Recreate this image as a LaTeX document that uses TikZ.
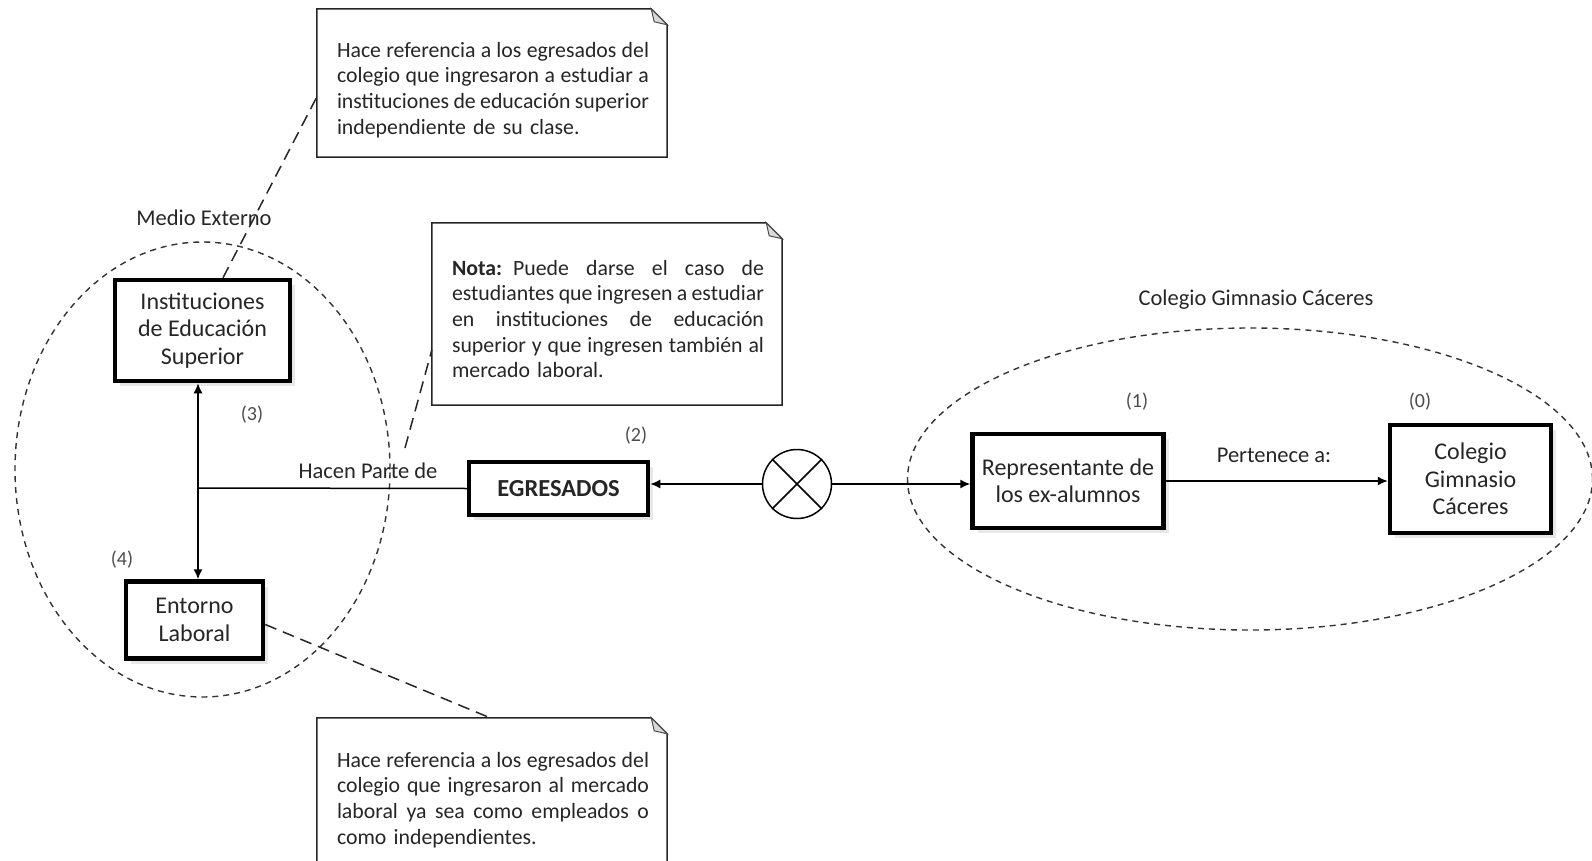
\documentclass[tikz,border=0pt]{standalone}
\usepackage{fontspec}
\setmainfont{Carlito}
\newcommand\jline[1]{\leavevmode\hbox to 312pt{\spaceskip=0.13em plus 3em minus 0.05em\relax #1}}
\usetikzlibrary{arrows.meta,calc,shadows,shapes.geometric}
\begin{document}
\begin{tikzpicture}[x=1pt,y=-1pt,
  txt/.style={font=\fontsize{22.5}{27.5}\selectfont, text=black!85, inner sep=0pt},
  num/.style={font=\fontsize{20}{22}\selectfont, text=black!70, inner sep=0pt},
  entity/.style={draw=black, line width=4.5pt, fill=white, align=center, inner sep=0pt,
    font=\fontsize{24}{27.5}\selectfont, text=black!85,
    drop shadow={shadow xshift=5pt, shadow yshift=-5pt, fill=black!18}},
  link/.style={line width=1.5pt, draw=black},
  tip/.style={-{Latex[length=10pt,width=9pt]}},
  region/.style={ellipse, draw=black!80, line width=1.4pt, dash pattern=on 6pt off 5pt, inner sep=0pt},
  notebg/.style={draw=none, inner sep=0pt},
  noteline/.style={line width=1.5pt, draw=black!85, fill=white},
  notetext/.style={inner sep=0pt, text=black!85, align=left, text width=312pt,
    font=\fontsize{21.8}{25.7}\selectfont},
  callout/.style={line width=1.5pt, draw=black!85, dash pattern=on 12pt off 7pt},
]
\useasboundingbox (0,0) rectangle (1592,861);
\clip (0,0) rectangle (1592,861);

% regions
\node[region, minimum width=375pt, minimum height=455pt] (medioreg) at (202.5,469.5) {};
\node[region, minimum width=685pt, minimum height=302pt] (colreg) at (1250,479) {};

% note frames
\node[notebg, minimum width=350pt, minimum height=148pt] (n1) at (492,83) {};
\node[notebg, minimum width=350pt, minimum height=182pt] (n2) at (607,314) {};
\node[notebg, minimum width=350pt, minimum height=184pt] (n3) at (492,810) {};
\foreach \n in {n1,n2,n3}{
  \draw[noteline] (\n.north west) -- ($(\n.north east)+(-16,0)$) -- ($(\n.north east)+(0,16)$)
    -- (\n.south east) -- (\n.south west) -- cycle;
  \draw[line width=1pt, draw=black!70, fill=black!15] ($(\n.north east)+(-16,0)$)
    -- ($(\n.north east)+(-13,13)$) -- ($(\n.north east)+(0,16)$) -- cycle;
}
\node[notetext, anchor=north west] (t1) at ($(n1.north west)+(20,33)$)
  {\jline{Hace referencia a los egresados del}\\ \jline{colegio que ingresaron a estudiar a}\\ \jline{instituciones de educación superior}\\ independiente de su clase.};
\node[notetext, anchor=north west] (t2) at ($(n2.north west)+(20,37)$)
  {\jline{\textbf{Nota:} Puede darse el caso de}\\ \jline{estudiantes que ingresen a estudiar}\\ \jline{en instituciones de educación}\\ \jline{superior y que ingresen también al}\\ mercado laboral.};
\node[notetext, anchor=north west] (t3) at ($(n3.north west)+(20,34)$)
  {\jline{Hace referencia a los egresados del}\\ \jline{colegio que ingresaron al mercado}\\ \jline{laboral ya sea como empleados o}\\ como independientes.};

% entity boxes
\node[entity, minimum width=175pt, minimum height=101pt] (inst) at (202.5,330.5) {Instituciones\\de Educación\\Superior};
\node[entity, minimum width=137pt, minimum height=77pt] (ent) at (194.5,620) {Entorno\\Laboral};
\node[entity, minimum width=179pt, minimum height=53pt, font=\fontsize{24.5}{28}\selectfont\bfseries] (egr) at (558.5,488.5) {EGRESADOS};
\node[entity, minimum width=191pt, minimum height=94pt] (rep) at (1068,481) {Representante de\\los ex-alumnos};
\node[entity, minimum width=161pt, minimum height=108pt] (col) at (1470.5,479) {Colegio\\Gimnasio\\Cáceres};
\node[circle, draw=black, line width=1.5pt, fill=white, minimum size=69pt, inner sep=0pt] (cx) at (797,484) {};
\draw[link] (cx.45) -- (cx.225) (cx.135) -- (cx.315);

% callouts
\coordinate (c2) at (405,448);
\draw[callout] ($(inst.north)+(20.5,0)$) -- ($(n1.west)+(0,14)$);
\draw[callout] (c2) -- ($(n2.west)+(0,36)$);
\draw[callout] ($(ent.east)+(0,4.5)$) -- ($(n3.north)+(-2,0)$);

% links
\coordinate (j) at (198,488);
\draw[link, {Latex[length=10pt,width=9pt]}-{Latex[length=10pt,width=9pt]}] (j |- inst.south) -- (j |- ent.north);
\draw[link] (j) -- (egr.west);
\draw[link, tip] (cx.west) -- (cx.west -| egr.east);
\draw[link, tip] (cx.east) -- (cx.east -| rep.west);
\draw[link, tip] (rep.east) -- (rep.east -| col.west);

% labels
\node[txt] (medio) at (204,218) {Medio Externo};
\node[txt] (colg) at (1256,300) {Colegio Gimnasio Cáceres};
\node[txt] (hacen) at (368,471) {Hacen Parte de};
\node[txt] (pert) at (1274,455) {Pertenece a:};
\node[num] (l3) at (252,415) {(3)};
\node[num] (l4) at (122,560) {(4)};
\node[num] (l2) at (636,436) {(2)};
\node[num] (l1) at (1137,402) {(1)};
\node[num] (l0) at (1420,402) {(0)};
\end{tikzpicture}
\end{document}
